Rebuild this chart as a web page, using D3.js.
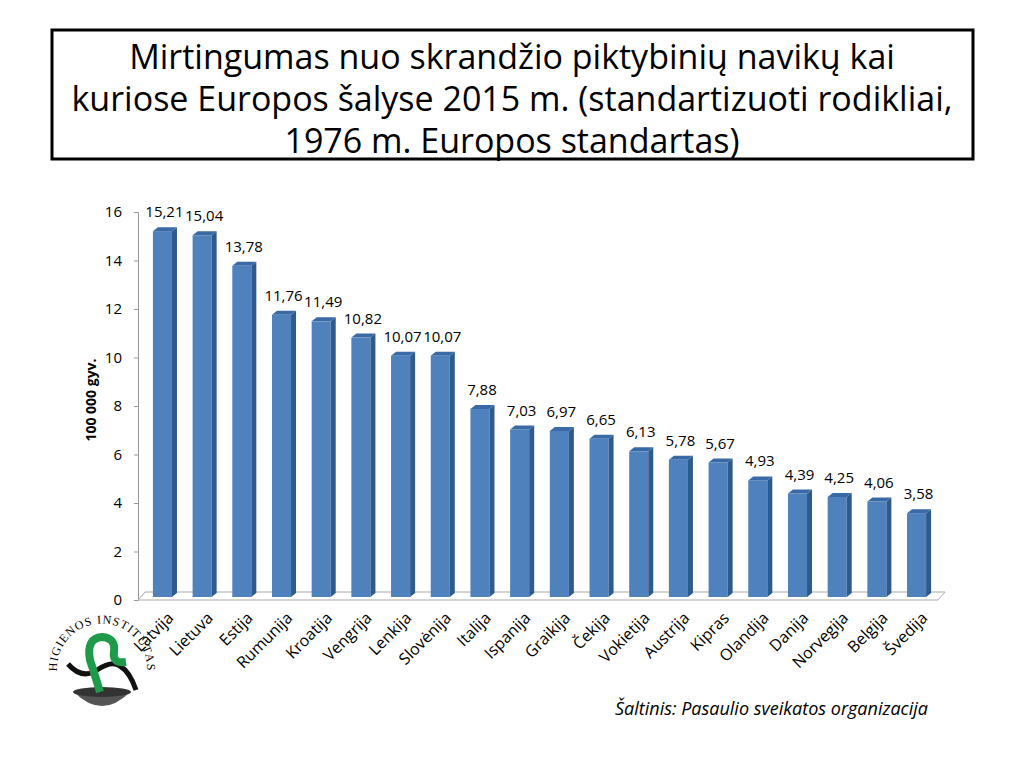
<!DOCTYPE html>
<html><head><meta charset="utf-8">
<script src="https://cdn.jsdelivr.net/npm/d3@7"></script>
<style>body{margin:0;background:#fff;font-family:"Open Sans",sans-serif}</style>
</head><body>
<script>
var countries = ["Latvija","Lietuva","Estija","Rumunija","Kroatija","Vengrija","Lenkija","Slovėnija","Italija","Ispanija","Graikija","Čekija","Vokietija","Austrija","Kipras","Olandija","Danija","Norvegija","Belgija","Švedija"];
var values = [15.21,15.04,13.78,11.76,11.49,10.82,10.07,10.07,7.88,7.03,6.97,6.65,6.13,5.78,5.67,4.93,4.39,4.25,4.06,3.58];
var yTicks = [0,2,4,6,8,10,12,14,16];
var titleLines = ["Mirtingumas nuo skrandžio piktybinių navikų kai","kuriose Europos šalyse 2015 m. (standartizuoti rodikliai,","1976 m. Europos standartas)"];

var svg = d3.select("body").append("svg").attr("width",1024).attr("height",768);

svg.append("rect").attr("x",52).attr("y",30).attr("width",921).attr("height",129)
  .attr("fill","none").attr("stroke","#000").attr("stroke-width",3);
svg.selectAll("text.title").data(titleLines).enter().append("text")
  .attr("x",512).attr("y",function(d,i){return 69+i*42;})
  .attr("text-anchor","middle").attr("font-size",34).text(function(d){return d;});

var x = d3.scaleBand().domain(countries).range([141,938]).paddingInner(0.52).paddingOuter(0.3);
var y = d3.scaleLinear().domain([0,16]).range([600,212]);
var dx = 5, dy = 4;

// y axis
var ax = svg.append("g").attr("transform","translate(138,0)")
  .call(d3.axisLeft(y).tickValues(yTicks).tickSize(4).tickPadding(12));
ax.select(".domain").attr("stroke","#999");
ax.selectAll("line").attr("stroke","#999");
ax.selectAll("text").attr("font-size",15).attr("font-family","Open Sans");

// floor
svg.append("path").attr("d","M138,600 L938,600 L945,592 L145,592 Z").attr("fill","#fff").attr("stroke","#aaa");

svg.append("text").attr("transform","translate(96,400) rotate(-90)").attr("text-anchor","middle")
  .attr("font-size",14).attr("font-weight","bold").text("100 000 gyv.");

var bars = svg.selectAll("g.bar").data(countries).enter().append("g");
bars.append("rect").attr("x",function(d){return x(d);}).attr("y",function(d,i){return y(values[i]);})
  .attr("width",x.bandwidth()).attr("height",function(d,i){return 597-y(values[i]);}).attr("fill","#4f81bd");
bars.append("path").attr("fill","#2f5a8e").attr("d",function(d,i){
  var x0=x(d)+x.bandwidth(), t=y(values[i]);
  return "M"+x0+","+t+" l"+dx+","+(-dy)+" L"+(x0+dx)+","+(597-dy)+" L"+x0+",597 Z";});
bars.append("path").attr("fill","#3a6aa6").attr("d",function(d,i){
  var x0=x(d), t=y(values[i]);
  return "M"+x0+","+t+" l"+dx+","+(-dy)+" h"+x.bandwidth()+" l"+(-dx)+","+dy+" Z";});
bars.append("text").attr("x",function(d){return x(d)+x.bandwidth()/2+2;})
  .attr("y",function(d,i){return y(values[i])-14;}).attr("text-anchor","middle").attr("font-size",15)
  .text(function(d,i){return values[i].toFixed(2).replace(".",",");});
bars.append("text").attr("font-size",16).attr("text-anchor","end")
  .attr("transform",function(d){return "translate("+(x(d)+x.bandwidth()/2+12)+",619) rotate(-45)";})
  .text(function(d){return d;});

svg.append("text").attr("x",615).attr("y",715).attr("font-size",18).attr("font-style","italic")
  .text("Šaltinis: Pasaulio sveikatos organizacija");

// logo
var lg = svg.append("g").attr("transform","translate(102,668)");
lg.append("path").attr("id","larc").attr("d","M-34,30 A45,45 0 1,1 34,30").attr("fill","none");
lg.append("text").attr("font-family","Liberation Serif").attr("font-size",12).attr("letter-spacing",1)
  .attr("text-anchor","middle")
  .append("textPath").attr("href","#larc").attr("startOffset","50%").text("HIGIENOS  INSTITUTAS");
lg.append("path").attr("d","M-28,24 Q0,52 28,24 Z").attr("fill","#555");
lg.append("ellipse").attr("cx",0).attr("cy",24).attr("rx",29).attr("ry",5).attr("fill","#333");
lg.append("path").attr("d","M-34,-4 Q-20,12 -5,2 Q10,-8 18,-2 Q28,4 34,22").attr("fill","none").attr("stroke","#111").attr("stroke-width",5);
lg.append("path").attr("d","M-2,24 Q-8,4 -12,-8 Q-16,-30 0,-31 Q14,-30 12,-16 Q10,-4 24,-6").attr("fill","none").attr("stroke","#1e9a4a").attr("stroke-width",8);
</script>
</body></html>
